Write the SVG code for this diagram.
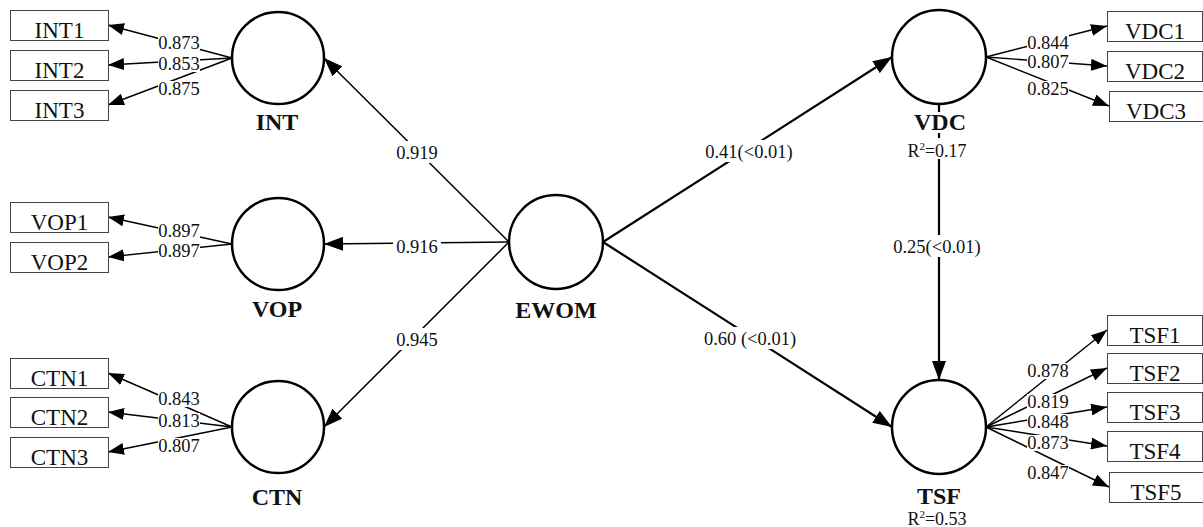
<svg xmlns="http://www.w3.org/2000/svg" width="1203" height="527" viewBox="0 0 1203 527">
<defs>
<marker id="ah" markerWidth="16" markerHeight="12" refX="16" refY="6" orient="auto" markerUnits="userSpaceOnUse"><path d="M0,0 L16,6 L0,12 z" fill="#000"/></marker>
<marker id="ahb" markerWidth="19" markerHeight="14" refX="19" refY="7" orient="auto" markerUnits="userSpaceOnUse"><path d="M0,0 L19,7 L0,14 z" fill="#000"/></marker>
<style>
.lat{fill:#fff;stroke:#000;stroke-width:2.5}
.box{fill:#fff;stroke:#444;stroke-width:1}
.bt{font-family:"Liberation Serif",serif;font-size:23px;fill:#111;text-anchor:middle}
.lt{font-family:"Liberation Serif",serif;font-size:24px;font-weight:bold;fill:#111;text-anchor:middle}
.nt{font-family:"Liberation Serif",serif;font-size:18.5px;fill:#111;text-anchor:middle}
.rt{font-family:"Liberation Serif",serif;font-size:18px;fill:#111;text-anchor:middle}
.il{stroke:#000;stroke-width:1.4;fill:none;marker-end:url(#ah)}
.sl{stroke:#000;stroke-width:1.5;fill:none;marker-end:url(#ahb)}
.sr{stroke:#000;stroke-width:2.2;fill:none;marker-end:url(#ahb)}
.bg{fill:#fff}
</style>
</defs>
<rect width="1203" height="527" fill="#fff"/>
<g id="connectors">
<line class="il" x1="232" y1="58" x2="108" y2="25"/>
<line class="il" x1="232" y1="58" x2="108" y2="65"/>
<line class="il" x1="232" y1="58" x2="108" y2="105"/>
<line class="il" x1="232" y1="244" x2="108" y2="217"/>
<line class="il" x1="232" y1="244" x2="108" y2="257"/>
<line class="il" x1="232" y1="427" x2="108" y2="373"/>
<line class="il" x1="232" y1="427" x2="108" y2="412"/>
<line class="il" x1="232" y1="427" x2="108" y2="452"/>
<line class="il" x1="986" y1="57" x2="1107" y2="26"/>
<line class="il" x1="986" y1="57" x2="1107" y2="66"/>
<line class="il" x1="986" y1="57" x2="1109" y2="106"/>
<line class="il" x1="986" y1="427" x2="1107" y2="330"/>
<line class="il" x1="986" y1="427" x2="1107" y2="368"/>
<line class="il" x1="986" y1="427" x2="1107" y2="407"/>
<line class="il" x1="986" y1="427" x2="1107" y2="446"/>
<line class="il" x1="986" y1="427" x2="1109" y2="487"/>
<line class="sl" x1="509" y1="242" x2="324" y2="58"/>
<line class="sl" x1="509" y1="242" x2="324" y2="244"/>
<line class="sl" x1="509" y1="242" x2="324" y2="427"/>
<line class="sr" x1="603" y1="242" x2="892" y2="57"/>
<line class="sr" x1="603" y1="242" x2="892" y2="427"/>
<line class="sr" x1="939" y1="104" x2="939" y2="380"/>
<g id="edge-labels">
<rect class="bg" x="158" y="35" width="42" height="16"/><text class="nt" x="179" y="49">0.873</text>
<rect class="bg" x="158" y="56" width="42" height="16"/><text class="nt" x="179" y="70">0.853</text>
<rect class="bg" x="158" y="81" width="42" height="16"/><text class="nt" x="179" y="95">0.875</text>
<rect class="bg" x="158" y="223" width="42" height="16"/><text class="nt" x="179" y="237">0.897</text>
<rect class="bg" x="158" y="243" width="42" height="16"/><text class="nt" x="179" y="257">0.897</text>
<rect class="bg" x="158" y="391" width="42" height="16"/><text class="nt" x="179" y="405">0.843</text>
<rect class="bg" x="158" y="413" width="42" height="16"/><text class="nt" x="179" y="427">0.813</text>
<rect class="bg" x="158" y="438" width="42" height="16"/><text class="nt" x="179" y="452">0.807</text>
<rect class="bg" x="1027" y="35" width="42" height="16"/><text class="nt" x="1048" y="49">0.844</text>
<rect class="bg" x="1027" y="54" width="42" height="16"/><text class="nt" x="1048" y="68">0.807</text>
<rect class="bg" x="1027" y="81" width="42" height="16"/><text class="nt" x="1048" y="95">0.825</text>
<rect class="bg" x="1027" y="363" width="42" height="16"/><text class="nt" x="1048" y="377">0.878</text>
<rect class="bg" x="1027" y="394" width="42" height="16"/><text class="nt" x="1048" y="408">0.819</text>
<rect class="bg" x="1027" y="414" width="42" height="16"/><text class="nt" x="1048" y="428">0.848</text>
<rect class="bg" x="1027" y="435" width="42" height="16"/><text class="nt" x="1048" y="449">0.873</text>
<rect class="bg" x="1027" y="465" width="42" height="16"/><text class="nt" x="1048" y="479">0.847</text>
<rect class="bg" x="393" y="141" width="48" height="22"/><text class="nt" x="417" y="159">0.919</text>
<rect class="bg" x="393" y="235" width="48" height="22"/><text class="nt" x="417" y="253">0.916</text>
<rect class="bg" x="393" y="328" width="48" height="22"/><text class="nt" x="417" y="346">0.945</text>
<rect class="bg" x="701" y="140" width="96" height="22"/><text class="nt" x="749" y="158">0.41(&lt;0.01)</text>
<rect class="bg" x="699" y="327" width="102" height="22"/><text class="nt" x="750" y="345">0.60 (&lt;0.01)</text>
<rect class="bg" x="889" y="235" width="96" height="22"/><text class="nt" x="937" y="253">0.25(&lt;0.01)</text>
</g>
</g>
<g id="INT"><circle class="lat" cx="278" cy="58" r="46"/><text class="lt" x="277" y="130">INT</text></g>
<g id="VOP"><circle class="lat" cx="278" cy="244" r="46"/><text class="lt" x="277" y="317">VOP</text></g>
<g id="CTN"><circle class="lat" cx="278" cy="427" r="46"/><text class="lt" x="277" y="505">CTN</text></g>
<g id="EWOM"><circle class="lat" cx="556" cy="242" r="47"/><text class="lt" x="556" y="318">EWOM</text></g>
<g id="VDC"><circle class="lat" cx="939" cy="57" r="47"/><rect class="bg" x="916" y="112" width="48" height="21"/><text class="lt" x="940" y="130">VDC</text><rect class="bg" x="900" y="138" width="74" height="21"/><text class="rt" x="937" y="157">R<tspan dy="-7" font-size="11">2</tspan><tspan dy="7">=0.17</tspan></text></g>
<g id="TSF"><circle class="lat" cx="939" cy="427" r="47"/><text class="lt" x="939" y="504">TSF</text><text class="rt" x="937" y="525">R<tspan dy="-7" font-size="11">2</tspan><tspan dy="7">=0.53</tspan></text></g>
<g id="INT1"><rect class="box" x="10.5" y="10.5" width="98" height="30"/><text class="bt" x="59.5" y="38">INT1</text></g>
<g id="INT2"><rect class="box" x="10.5" y="50.5" width="98" height="30"/><text class="bt" x="59.5" y="78">INT2</text></g>
<g id="INT3"><rect class="box" x="10.5" y="90.5" width="98" height="30"/><text class="bt" x="59.5" y="118">INT3</text></g>
<g id="VOP1"><rect class="box" x="10.5" y="202.5" width="98" height="30"/><text class="bt" x="59.5" y="230">VOP1</text></g>
<g id="VOP2"><rect class="box" x="10.5" y="242.5" width="98" height="30"/><text class="bt" x="59.5" y="270">VOP2</text></g>
<g id="CTN1"><rect class="box" x="10.5" y="358.5" width="98" height="30"/><text class="bt" x="59.5" y="386">CTN1</text></g>
<g id="CTN2"><rect class="box" x="10.5" y="397.5" width="98" height="30"/><text class="bt" x="59.5" y="425">CTN2</text></g>
<g id="CTN3"><rect class="box" x="10.5" y="437.5" width="98" height="30"/><text class="bt" x="59.5" y="465">CTN3</text></g>
<g id="VDC1"><rect class="box" x="1107.5" y="11.5" width="95" height="30"/><text class="bt" x="1155" y="39">VDC1</text></g>
<g id="VDC2"><rect class="box" x="1107.5" y="51.5" width="95" height="30"/><text class="bt" x="1155" y="79">VDC2</text></g>
<g id="VDC3"><rect class="box" x="1109.5" y="91.5" width="94" height="30"/><text class="bt" x="1156" y="119">VDC3</text></g>
<g id="TSF1"><rect class="box" x="1107.5" y="315.5" width="95" height="30"/><text class="bt" x="1155" y="343">TSF1</text></g>
<g id="TSF2"><rect class="box" x="1107.5" y="353.5" width="95" height="30"/><text class="bt" x="1155" y="381">TSF2</text></g>
<g id="TSF3"><rect class="box" x="1107.5" y="392.5" width="95" height="30"/><text class="bt" x="1155" y="420">TSF3</text></g>
<g id="TSF4"><rect class="box" x="1107.5" y="431.5" width="95" height="30"/><text class="bt" x="1155" y="459">TSF4</text></g>
<g id="TSF5"><rect class="box" x="1109.5" y="472.5" width="94" height="30"/><text class="bt" x="1156" y="500">TSF5</text></g>
</svg>
